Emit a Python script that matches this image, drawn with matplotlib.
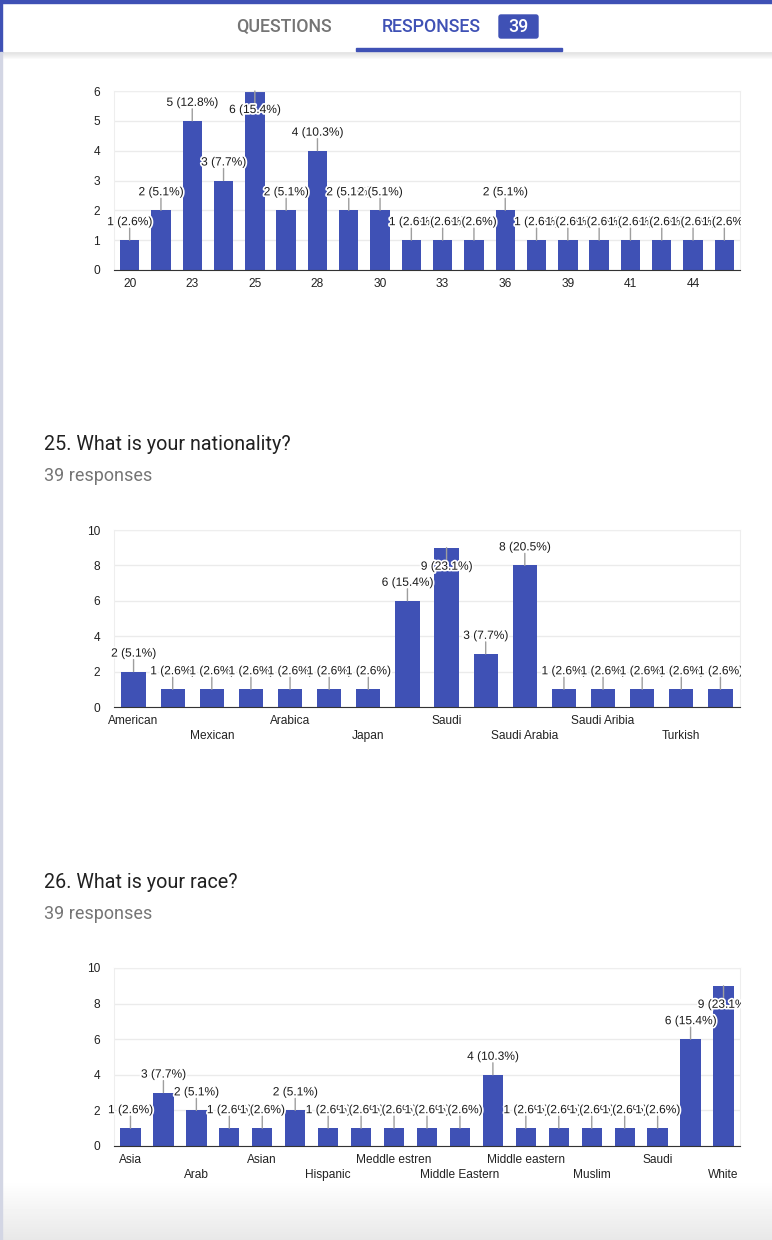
import numpy as np
import matplotlib.pyplot as plt
from matplotlib.patches import Rectangle, FancyBboxPatch
from matplotlib import patheffects

W, H = 772, 1240
BLUE = '#3f51b5'

# Question 24 (ages) - only every other tick label is shown
age_labels = ['20', '', '23', '', '25', '', '28', '', '30', '', '33', '', '36', '', '39', '', '41', '', '44', '']
age_counts = [1, 2, 5, 3, 6, 2, 4, 2, 2, 1, 1, 1, 2, 1, 1, 1, 1, 1, 1, 1]

# Question 25 - nationality
nat_labels = ['American', '', 'Mexican', '', 'Arabica', '', 'Japan', '', 'Saudi', '',
              'Saudi Arabia', '', 'Saudi Aribia', '', 'Turkish', '']
nat_counts = [2, 1, 1, 1, 1, 1, 1, 6, 9, 3, 8, 1, 1, 1, 1, 1]

# Question 26 - race
race_labels = ['Asia', '', 'Arab', '', 'Asian', '', 'Hispanic', '', 'Meddle estren', '',
               'Middle Eastern', '', 'Middle eastern', '', 'Muslim', '', 'Saudi', '', 'White']
race_counts = [1, 3, 2, 1, 1, 2, 1, 1, 1, 1, 1, 4, 1, 1, 1, 1, 1, 6, 9]

total = 39

fig = plt.figure(figsize=(W / 100, H / 100), dpi=100)
fig.patch.set_facecolor('white')

# background / page chrome drawn in pixel coordinates
bg = fig.add_axes([0, 0, 1, 1], zorder=0)
bg.axis('off')

# bottom grey fade
grad = np.linspace(1.0, 0.91, 60).reshape(-1, 1)
bg.imshow(grad, cmap='gray', vmin=0, vmax=1, extent=(0, W, H, 1180), aspect='auto')
# header shadow
sh = np.linspace(0.86, 1.0, 8).reshape(-1, 1)
bg.imshow(sh, cmap='gray', vmin=0, vmax=1, extent=(0, W, 60, 51), aspect='auto')
bg.add_patch(Rectangle((0, 0), W, 51, color='white', zorder=2))
bg.add_patch(Rectangle((0, 0), W, 3, color=BLUE, zorder=3))
bg.add_patch(Rectangle((0, 0), 2, 52, color=BLUE, zorder=3))
bg.add_patch(Rectangle((0, 52), 2, H - 52, color='#d3d6e4', zorder=3))
bg.set_xlim(0, W)
bg.set_ylim(H, 0)

bg.text(284, 27, 'QUESTIONS', ha='center', va='center', fontsize=12.8,
        family='Roboto', fontweight='medium', color='#757575', zorder=4)
bg.text(431, 27, 'RESPONSES', ha='center', va='center', fontsize=12.8,
        family='Roboto', fontweight='medium', color=BLUE, zorder=4)
bg.add_patch(FancyBboxPatch((499, 15), 39, 23, boxstyle='round,pad=0,rounding_size=2',
                            color=BLUE, zorder=4))
bg.text(518.5, 27, '39', ha='center', va='center', fontsize=12.8, family='Roboto',
        fontweight='medium', color='white', zorder=5)
bg.add_patch(Rectangle((356, 48), 206, 3, color=BLUE, zorder=4))

for ty, q in [(445, '25. What is your nationality?'), (883, '26. What is your race?')]:
    bg.text(44, ty, q, ha='left', va='center', fontsize=14.2, family='Roboto', color='#212121')
    bg.text(44, ty + 31, '39 responses', ha='left', va='center', fontsize=13,
            family='Roboto', color='#757575')

clip = Rectangle((0, 0), 741 / W, 1, transform=fig.transFigure)


def rect(l, t, r, b):
    return [l / W, 1 - b / H, (r - l) / W, (b - t) / H]


def bar_chart(box, labels, counts, ymax, ystep, two_rows):
    ax = fig.add_axes(rect(*box), zorder=1)
    x = np.arange(len(counts))
    ax.bar(x, counts, width=0.618, color=BLUE, zorder=2)
    ax.set_xlim(-0.5, len(counts) - 0.5)
    ax.set_ylim(0, ymax)
    ax.set_yticks(np.arange(0, ymax + 1, ystep))
    ax.grid(axis='y', color='#ebebeb', lw=1, zorder=0)
    for s in ['top', 'left', 'right']:
        ax.spines[s].set_color('#eeeeee')
    ax.spines['bottom'].set_color('#333333')
    ax.spines['bottom'].set_zorder(5)
    ax.tick_params(length=0, labelsize=8.6, labelcolor='#222222')
    ax.tick_params(axis='y', pad=10)
    ax.tick_params(axis='x', pad=6)

    pos = [i for i, l in enumerate(labels) if l]
    txt = []
    for k, i in enumerate(pos):
        txt.append(('\n' if (two_rows and k % 2) else '') + labels[i])
    ax.set_xticks(pos, txt, family='Liberation Sans')
    for t in ax.get_xticklabels():
        t.set_linespacing(1.35)
    for t in ax.get_yticklabels():
        t.set_family('Liberation Sans')

    hpx = box[3] - box[1]
    upp = ymax / hpx
    for i, v in enumerate(counts):
        s = '%d (%.1f%%)' % (v, 100.0 * v / total)
        if v + 25 * upp > ymax:
            off, rel = -19, (0.5, 1)
        else:
            off, rel = 18, (0.5, 0)
        a = ax.annotate(s, xy=(i, v), xytext=(0, off), textcoords='offset pixels',
                        ha='center', va='center', fontsize=8.6, family='Liberation Sans',
                        color='#1a1a1a', annotation_clip=False, zorder=3 + i,
                        arrowprops=dict(arrowstyle='-', color='#9e9e9e', lw=1,
                                        shrinkA=0, shrinkB=0, patchA=None, relpos=rel))
        a.set_path_effects([patheffects.withStroke(linewidth=2.5, foreground='white')])
        a.set_clip_path(clip)
        a.arrow_patch.set_clip_path(clip)
    return ax


bar_chart((114, 91, 740, 270), age_labels, age_counts, 6, 1, False)
bar_chart((114, 530, 740, 707), nat_labels, nat_counts, 10, 2, True)
bar_chart((114, 968, 740, 1146), race_labels, race_counts, 10, 2, True)

fig.savefig('out.png', dpi=100)
